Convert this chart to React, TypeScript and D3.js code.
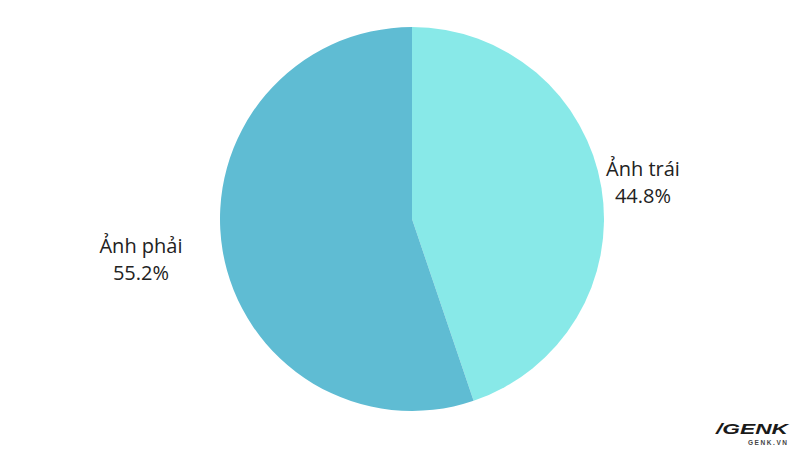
import React from "react";
import * as d3 from "d3";

const labels = ["Ảnh trái", "Ảnh phải"];
const values = [44.8, 55.2];
const colors = ["#88E9E8", "#5FBCD3"];

export default function App() {
  const width = 800;
  const height = 450;
  const cx = 412;
  const cy = 219;
  const r = 192;
  const pie = d3.pie<number>().sort(null).value((d) => d);
  const arcs = pie(values);
  const arc = d3.arc<d3.PieArcDatum<number>>().innerRadius(0).outerRadius(r);
  const labelPos = [
    { x: 643, y: 176 },
    { x: 141, y: 253 },
  ];
  return (
    <svg width={width} height={height} style={{ position: "absolute", left: 0, top: 0, background: "#fff" }}
      fontFamily="'Open Sans', sans-serif">
      <rect width={width} height={height} fill="#fff" />
      <g transform={`translate(${cx},${cy})`}>
        {arcs.map((a, i) => (
          <path key={i} d={arc(a) || ""} fill={colors[i]} />
        ))}
      </g>
      {arcs.map((a, i) => (
        <g key={"l" + i}>
          <text x={labelPos[i].x} y={labelPos[i].y} textAnchor="middle" fontSize={20} fill="#222">{labels[i]}</text>
          <text x={labelPos[i].x} y={labelPos[i].y + 27} textAnchor="middle" fontSize={20} fill="#222">{a.data.toFixed(1)}%</text>
        </g>
      ))}
      <g fontFamily="'Liberation Sans', Arial, sans-serif">
        <text x={716} y={434} fontSize={14} fontWeight="bold" fontStyle="italic" fill="#1a1a1a"
          textLength={72} lengthAdjust="spacingAndGlyphs">/GENK</text>
        <text x={748} y={444.5} fontSize={6.5} fontWeight="bold" fill="#444"
          textLength={39} lengthAdjust="spacing">GENK.VN</text>
      </g>
    </svg>
  );
}
